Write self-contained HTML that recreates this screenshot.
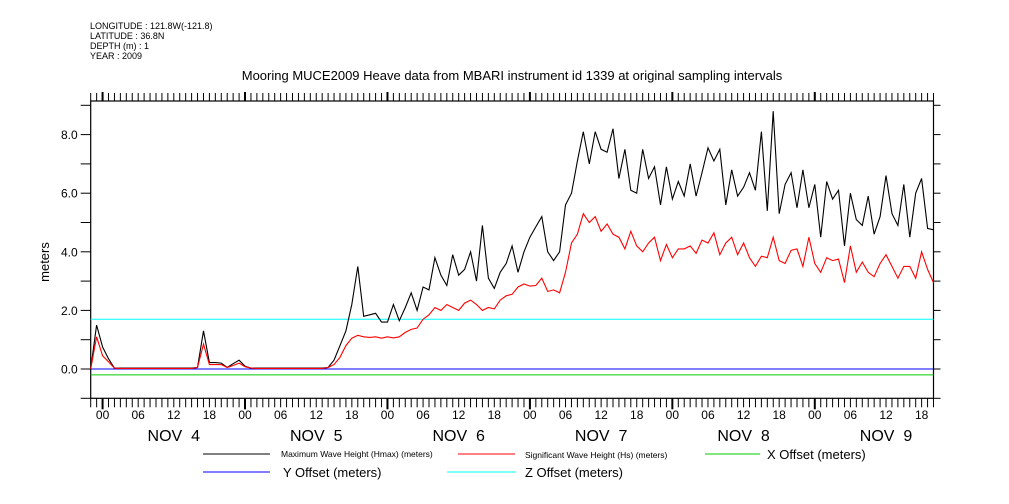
<!DOCTYPE html>
<html><head><meta charset="utf-8">
<style>
body{margin:0;background:#fff;}
svg{display:block;font-family:"Liberation Sans",sans-serif;}
</style></head>
<body>
<svg id="chart" width="1009" height="504" viewBox="0 0 1009 504" xmlns="http://www.w3.org/2000/svg">
<g font-size="9" fill="#000">
<text x="90" y="29">LONGITUDE : 121.8W(-121.8)</text>
<text x="90" y="39">LATITUDE : 36.8N</text>
<text x="90" y="49">DEPTH (m) : 1</text>
<text x="90" y="59">YEAR : 2009</text>
</g>
<text x="512" y="80" text-anchor="middle" font-size="13">Mooring MUCE2009 Heave data from MBARI instrument id 1339 at original sampling intervals</text>
<text transform="translate(49,262) rotate(-90)" text-anchor="middle" font-size="13">meters</text>
<g id="axes"></g>
<g id="series"></g>
<g font-size="12">
<line x1="203" y1="454" x2="270" y2="454" stroke="#000"/>
<text x="281" y="457" font-size="8.5">Maximum Wave Height (Hmax) (meters)</text>
<line x1="458" y1="454" x2="515" y2="454" stroke="#f00"/>
<text x="525" y="458" font-size="8.5">Significant Wave Height (Hs) (meters)</text>
<line x1="705" y1="454" x2="760" y2="454" stroke="#0c0"/>
<text x="767" y="459" font-size="13">X Offset (meters)</text>
<line x1="203" y1="472" x2="270" y2="472" stroke="#00f"/>
<text x="283" y="477" font-size="13">Y Offset (meters)</text>
<line x1="447" y1="472" x2="516" y2="472" stroke="#0ff"/>
<text x="525" y="477" font-size="13">Z Offset (meters)</text>
</g>
</svg>
<script>
// hours relative to Nov 4 00:00, from -2 to 140
const startHour = -2;
const hmax = [0,1.5,0.75,0.35,0.03,
0.03,0.03,0.03,0.03,0.03,0.03,0.03,0.03,0.03,0.03,0.03,0.03,0.03,
0.05,1.3,0.22,0.22,0.2,0.05,0.18,0.3,0.1,0.03,
0.03,0.03,0.03,0.03,0.03,0.03,0.03,0.03,0.03,0.03,0.03,0.03,
0.05,0.3,0.8,1.3,2.2,3.5,1.8,1.85,1.9,1.6,1.6,2.2,1.65,2.1,2.6,2.0,2.8,2.7,3.8,3.2,
2.85,3.9,3.2,3.4,4.0,3.0,4.9,3.1,2.75,3.3,3.6,4.2,3.3,4.0,4.5,4.85,5.2,4.0,3.7,4.0,
5.6,6.0,7.1,8.1,7.0,8.1,7.5,7.4,8.2,6.5,7.5,6.1,6.0,7.5,6.5,6.9,5.6,6.9,5.8,6.4,
5.9,7.0,5.9,6.7,7.55,7.1,7.5,5.6,6.8,5.9,6.2,6.7,6.1,8.1,5.4,8.8,5.3,6.3,6.7,5.5,
6.8,5.5,6.3,4.5,6.4,5.8,6.1,4.2,6.0,5.1,4.9,5.9,4.6,5.2,6.6,5.3,4.9,6.3,4.5,6.0,
6.5,4.8,4.75];
const hs = [0,1.1,0.45,0.25,0.03,
0.02,0.02,0.02,0.02,0.02,0.02,0.02,0.02,0.02,0.02,0.02,0.02,0.02,
0.05,0.85,0.15,0.15,0.15,0.05,0.12,0.2,0.08,0.03,
0.02,0.02,0.02,0.02,0.02,0.02,0.02,0.02,0.02,0.02,0.02,0.02,
0.05,0.15,0.4,0.8,1.05,1.15,1.1,1.08,1.1,1.05,1.1,1.06,1.1,1.25,1.35,1.4,1.7,1.85,2.1,2.0,
2.2,2.1,2.0,2.25,2.35,2.2,2.0,2.1,2.05,2.35,2.5,2.55,2.8,2.9,2.83,2.85,3.1,2.65,2.7,2.6,
3.3,4.3,4.6,5.3,5.0,5.2,4.7,4.95,4.6,4.5,4.1,4.7,4.2,4.0,4.3,4.5,3.7,4.25,3.8,4.1,
4.1,4.2,3.95,4.4,4.3,4.65,3.9,4.3,4.5,3.9,4.3,3.8,3.5,3.85,3.8,4.5,3.7,3.6,4.05,4.1,
3.5,4.5,3.6,3.3,3.8,3.7,3.75,2.95,4.2,3.3,3.65,3.3,3.15,3.6,3.9,3.5,3.1,3.5,3.5,3.1,
4.0,3.4,2.95];
const offsetLevels = [1.7, -0.2, 0];
const yTickValues = [-1,0,1,2,3,4,5,6,7,8,9];
const yTickLabels = ["0.0","2.0","4.0","6.0","8.0"];
const yLabelValues = [0,2,4,6,8];
const hourLabels = ["00","06","12","18"];
const dayLabels = ["NOV  4","NOV  5","NOV  6","NOV  7","NOV  8","NOV  9"];

const X0=90.7, X1=933.5, H0=-2, H1=140;
const Y0=369, PPM=29.3, YT=101, YB=398.3;
const xs = h => X0 + (h-H0)*(X1-X0)/(H1-H0);
const ys = v => Y0 - v*PPM;
const NS="http://www.w3.org/2000/svg";
function mk(tag, attrs, parent){const e=document.createElementNS(NS,tag);for(const k in attrs)e.setAttribute(k,attrs[k]);parent.appendChild(e);return e;}
const axes=document.getElementById('axes'), ser=document.getElementById('series');

let fr=mk('rect',{x:X0,y:YT,width:X1-X0,height:YB-YT,fill:'none',stroke:'#000','stroke-width':1.2},axes);



yTickValues.forEach(v=>{
  const y=ys(v);
  let t=mk('line',{x1:X0-10,y1:y,x2:X0,y2:y,stroke:'#000'},axes);
  
  
  let t2=mk('line',{x1:X1,y1:y,x2:X1+7,y2:y,stroke:'#000'},axes);
  
  
});
yLabelValues.forEach((v,i)=>{
  let l=mk('text',{x:X0-13,y:ys(v)+4.5,'text-anchor':'end','font-size':12},axes);
  l.textContent=yTickLabels[i];
  
  
});

for(let h=H0; h<=H1; h++){
  const x=xs(h), major=((h%24)+24)%24===0;
  let b=mk('line',{x1:x,y1:YB,x2:x,y2:YB+(major?11:9),stroke:'#000','stroke-width':major?2:1},axes);
  
  
  let t=mk('line',{x1:x,y1:YT-(major?9:8),x2:x,y2:YT,stroke:'#000','stroke-width':major?2:1},axes);
  
  
  if(((h%6)+6)%6===0 && h>=0){
    let l=mk('text',{x:x,y:419,'text-anchor':'middle','font-size':12},axes);
    l.textContent=hourLabels[(h%24)/6];
    
    
  }
}
dayLabels.forEach((d,i)=>{
  let l=mk('text',{x:xs(i*24+12),y:441,'text-anchor':'middle','font-size':16},axes);
  l.setAttribute('style','white-space:pre');
  l.textContent=d;
  
  
});

const offColors=['#0ff','#0c0','#00f'];
const offNames=['z-offset-line','x-offset-line','y-offset-line'];
offsetLevels.forEach((v,i)=>{
  let l=mk('line',{x1:X0,y1:ys(v),x2:X1,y2:ys(v),stroke:offColors[i],'stroke-width':1},ser);
  
  
});

function path(arr,color,name){
  const d=arr.map((v,i)=>(i?'L':'M')+xs(startHour+i).toFixed(1)+' '+ys(v).toFixed(1)).join(' ');
  let p=mk('path',{d:d,fill:'none',stroke:color,'stroke-width':1.1,'stroke-linejoin':'miter'},ser);
  
  
}
path(hmax,'#000','hmax-series');
path(hs,'#f00','hs-series');
</script>
</body></html>
